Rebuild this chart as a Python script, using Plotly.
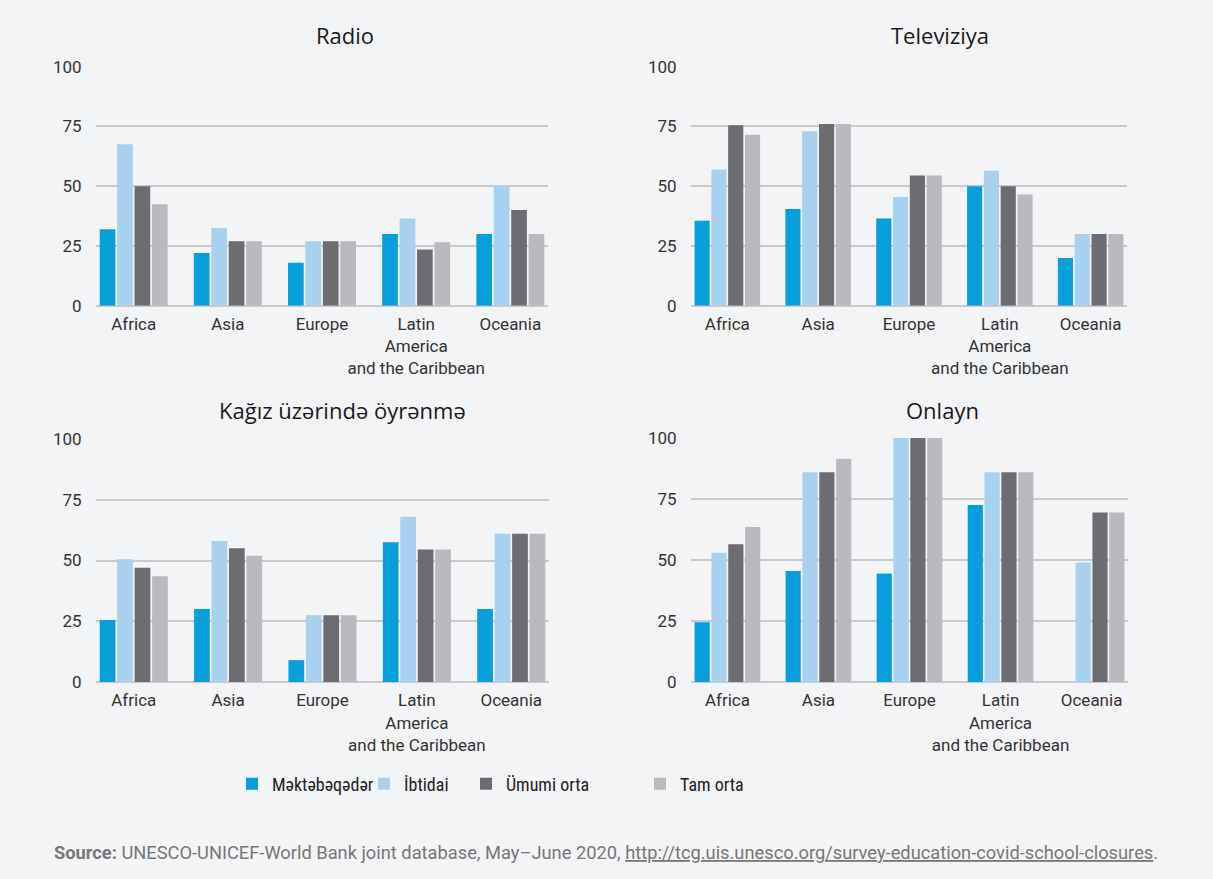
import plotly.graph_objects as go

W, H = 1213, 879

regions = ["Africa", "Asia", "Europe", "Latin<br>America<br>and the Caribbean", "Oceania"]
series_names = ["Məktəbəqədər", "İbtidai", "Ümumi orta", "Tam orta"]
colors = ["#079fdb", "#a8d0ef", "#6b6d71", "#b9babd"]
panel_titles = ["Radio", "Televiziya", "Kağız üzərində öyrənmə", "Onlayn"]
y_ticks = [0, 25, 50, 75, 100]

radio_pre = [32, 22, 18, 30, 30]
radio_prim = [67.5, 32.5, 27, 36.5, 50]
radio_lowsec = [50, 27, 27, 23.5, 40]
radio_upsec = [42.5, 27, 27, 26.5, 30]

tv_pre = [35.5, 40.5, 36.5, 50, 20]
tv_prim = [57, 73, 45.5, 56.5, 30]
tv_lowsec = [75.5, 76, 54.5, 50, 30]
tv_upsec = [71.5, 76, 54.5, 46.5, 30]

paper_pre = [25.5, 30, 9, 57.5, 30]
paper_prim = [50.5, 58, 27.5, 68, 61]
paper_lowsec = [47, 55, 27.5, 54.5, 61]
paper_upsec = [43.5, 52, 27.5, 54.5, 61]

online_pre = [24.5, 45.5, 44.5, 72.5, None]
online_prim = [53, 86, 100, 86, 49]
online_lowsec = [56.5, 86, 100, 86, 69.5]
online_upsec = [63.5, 91.5, 100, 86, 69.5]

panels = [
    [radio_pre, radio_prim, radio_lowsec, radio_upsec],
    [tv_pre, tv_prim, tv_lowsec, tv_upsec],
    [paper_pre, paper_prim, paper_lowsec, paper_upsec],
    [online_pre, online_prim, online_lowsec, online_upsec],
]

# panel boxes in pixels: (x0, x1, ytop, ybottom)
boxes = [
    (96, 548, 66.7, 305.7),
    (691, 1127, 66.7, 305.7),
    (96, 549, 439, 682),
    (691, 1128, 438, 682),
]
title_pos = [(345, 35), (940, 35), (342, 410), (942, 410)]
legend_x = [232, 364, 466, 640]

fig = go.Figure()
legend_names = ["legend", "legend2", "legend3", "legend4"]

for p, data in enumerate(panels):
    ax = "" if p == 0 else str(p + 1)
    for s, vals in enumerate(data):
        fig.add_trace(go.Bar(
            x=regions, y=vals, name=series_names[s],
            marker=dict(color=colors[s], line=dict(width=0)),
            xaxis="x" + ax, yaxis="y" + ax,
            showlegend=(p == 0), legend=legend_names[s],
            hovertemplate="%{y}<extra>" + series_names[s] + "</extra>",
        ))

axis_font = dict(family="Roboto, Noto Sans, sans-serif", size=17, color="#333333")
layout = dict(
    width=W, height=H,
    margin=dict(l=0, r=0, t=0, b=0, autoexpand=False),
    paper_bgcolor="#f3f4f6", plot_bgcolor="#f3f4f6",
    barmode="group", bargap=0.26, bargroupgap=0.1,
    annotations=[], shapes=[],
)
for p, (x0, x1, yt, yb) in enumerate(boxes):
    ax = "" if p == 0 else str(p + 1)
    layout["xaxis" + ax] = dict(
        domain=[x0 / W, x1 / W], anchor="y" + ax,
        type="category", range=[-0.4, 4.4],
        showgrid=False, showline=False, zeroline=False,
        ticks="outside", ticklen=3, tickcolor="rgba(0,0,0,0)",
        tickangle=0, automargin=False,
        tickfont=axis_font, fixedrange=True,
    )
    layout["yaxis" + ax] = dict(
        domain=[1 - yb / H, 1 - yt / H], anchor="x" + ax,
        range=[0, 100], tickvals=y_ticks,
        showgrid=True, gridcolor="#c9cacd", gridwidth=1.5,
        zeroline=True, zerolinecolor="#c9cacd", zerolinewidth=1.5,
        showline=False, automargin=False,
        ticks="outside", ticklen=10, tickcolor="rgba(0,0,0,0)",
        tickfont=axis_font, fixedrange=True,
    )
    tx, ty = title_pos[p]
    layout["annotations"].append(dict(
        text=panel_titles[p], x=tx / W, y=1 - ty / H, xref="paper", yref="paper",
        xanchor="center", yanchor="middle", showarrow=False,
        font=dict(family="Open Sans, Noto Sans, sans-serif", size=22, color="#1a1a1a"),
    ))

legend_font = dict(family="Roboto Condensed, Liberation Sans Narrow, DejaVu Sans Condensed, sans-serif",
                   size=18, color="#222222")
for i, ln in enumerate(legend_names):
    layout[ln] = dict(
        x=legend_x[i] / W, y=1 - 784 / H, xanchor="left", yanchor="middle",
        orientation="h", bgcolor="rgba(0,0,0,0)", borderwidth=0,
        font=legend_font, itemclick=False, itemdoubleclick=False,
    )

layout["annotations"].append(dict(
    text="<b>Source:</b> UNESCO-UNICEF-World Bank joint database, May\u2013June 2020, "
         "<u>http://tcg.uis.unesco.org/survey-education-covid-school-closures</u>.",
    x=52 / W, y=1 - 852 / H, xref="paper", yref="paper",
    xanchor="left", yanchor="middle", showarrow=False,
    font=dict(family="Roboto, Noto Sans, sans-serif", size=18.3, color="#777777"),
))

fig.update_layout(**layout)
fig.write_html(
    "out.html",
    config={"displayModeBar": False},
    post_script="document.body.style.margin='0';document.body.style.padding='0';",
)
